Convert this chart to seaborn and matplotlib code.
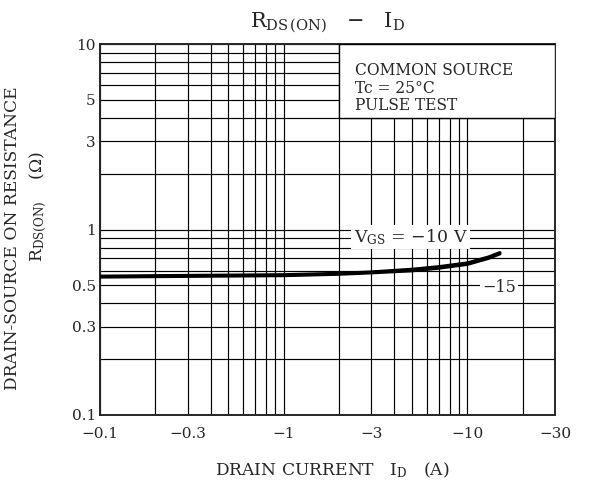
import numpy as np
import pandas as pd
import matplotlib
matplotlib.use('Agg')
import matplotlib.pyplot as plt
from matplotlib.patches import Rectangle
from matplotlib.ticker import FixedLocator, FixedFormatter, NullFormatter, LogLocator
import seaborn as sns

# 데이터 (그림에서 읽은 값, |I_D| 기준)
drain_current = [0.1, 0.3, 1, 2, 3, 5, 7, 10, 13, 15]
rds_vgs10 = [0.56, 0.565, 0.57, 0.58, 0.59, 0.61, 0.63, 0.66, 0.71, 0.75]
rds_vgs15 = [0.555, 0.56, 0.565, 0.575, 0.585, 0.60, 0.62, 0.65, 0.70, 0.74]

x_ticks = [0.1, 0.3, 1, 3, 10, 30]
x_tick_labels = ['−0.1', '−0.3', '−1', '−3', '−10', '−30']
y_ticks = [0.1, 0.3, 0.5, 1, 3, 5, 10]
y_tick_labels = ['0.1', '0.3', '0.5', '1', '3', '5', '10']

df = pd.DataFrame({
    'ID': drain_current * 2,
    'RDS': rds_vgs10 + rds_vgs15,
    'VGS': ['-10'] * len(drain_current) + ['-15'] * len(drain_current),
})

sns.set_style('ticks')
plt.rcParams['font.family'] = ['DejaVu Serif']
plt.rcParams['mathtext.fontset'] = 'dejavuserif'

fig = plt.figure(figsize=(5.95, 4.88), dpi=100)
ax = fig.add_axes([0.168, 0.1496, 0.765, 0.760])

sns.lineplot(data=df, x='ID', y='RDS', hue='VGS', palette=['black', 'black'],
             linewidth=2.4, legend=False, ax=ax, zorder=5)

ax.set_xscale('log')
ax.set_yscale('log')
ax.set_xlim(0.1, 30)
ax.set_ylim(0.1, 10)

ax.xaxis.set_major_locator(FixedLocator(x_ticks))
ax.xaxis.set_major_formatter(FixedFormatter(x_tick_labels))
ax.yaxis.set_major_locator(FixedLocator(y_ticks))
ax.yaxis.set_major_formatter(FixedFormatter(y_tick_labels))

# 격자 (로그 눈금 전체)
ax.xaxis.set_minor_locator(LogLocator(base=10, subs=np.arange(1, 10)))
ax.yaxis.set_minor_locator(LogLocator(base=10, subs=np.arange(1, 10)))
ax.xaxis.set_minor_formatter(NullFormatter())
ax.yaxis.set_minor_formatter(NullFormatter())
ax.grid(which='both', color='black', linewidth=0.85)
ax.tick_params(which='both', length=0, labelsize=11)
ax.tick_params(axis='x', pad=9)
ax.tick_params(axis='y', pad=3)
for s in ax.spines.values():
    s.set_linewidth(1.4)

# 조건 박스
ax.add_patch(Rectangle((2, 4), 28, 6, facecolor='white', edgecolor='black',
                       linewidth=1.0, zorder=3))
ax.text(2.44, 8.0, 'COMMON SOURCE\nTc = 25°C\nPULSE TEST', fontsize=11.2,
        va='top', ha='left', linespacing=1.05, zorder=4)

ax.text(4.9, 0.91, r'V$_{\rm GS}$ = −10 V', fontsize=12.5, ha='center', va='center',
        zorder=6, bbox=dict(facecolor='white', edgecolor='none', pad=1.5))
ax.text(14.8, 0.49, '−15', fontsize=11.5, ha='center', va='center',
        zorder=6, bbox=dict(facecolor='white', edgecolor='none', pad=1.5))

fig.text(0.55, 0.953, r'R$_{\rm DS\,(ON)}$   −   I$_{\rm D}$', fontsize=15,
         ha='center', va='center')

ax.set_xlabel(r'DRAIN CURRENT   I$_{\rm D}$   (A)', fontsize=12.3)
ax.xaxis.set_label_coords(0.51, -0.148)
ax.xaxis.label.set_va('center')

ax.set_ylabel('DRAIN-SOURCE ON RESISTANCE', fontsize=12.3)
ax.yaxis.set_label_coords(-0.192, 0.477)
ax.yaxis.label.set_va('center')
fig.text(38 / 595, 1 - 206 / 488, r'R$_{\rm DS(ON)}$    ($\Omega$)', fontsize=12.3,
         rotation=90, ha='center', va='center')

fig.savefig('out.png', dpi=100)
